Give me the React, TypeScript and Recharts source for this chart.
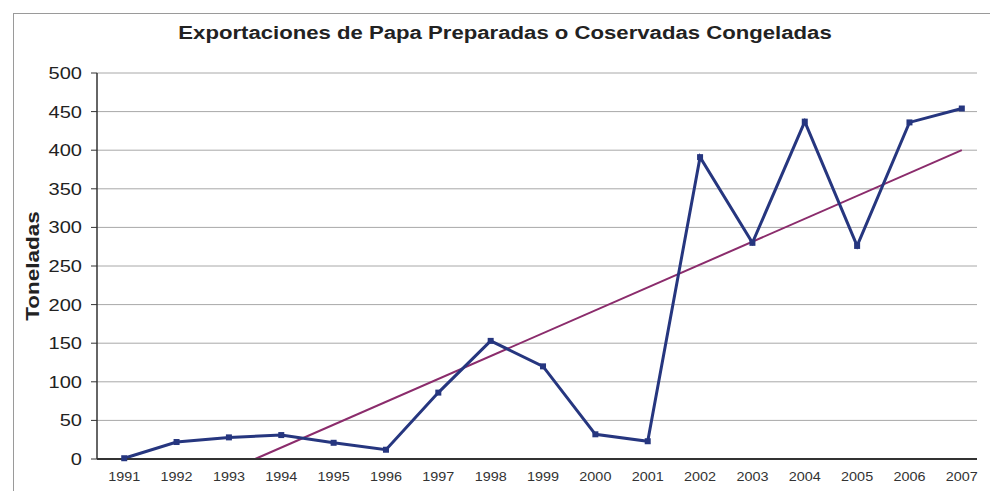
import React from "react";
import { LineChart, Line, XAxis, YAxis, CartesianGrid } from "recharts";

const years = [1991, 1992, 1993, 1994, 1995, 1996, 1997, 1998, 1999, 2000, 2001, 2002, 2003, 2004, 2005, 2006, 2007];
const toneladas = [1, 22, 28, 31, 21, 12, 86, 153, 120, 32, 23, 391, 280, 437, 276, 436, 454];
const yTicks = [0, 50, 100, 150, 200, 250, 300, 350, 400, 450, 500];
const trendYears = [1993.5, 2007];
const trendValues = [0, 400];

const seriesData = years.map((y, i) => ({ year: y, value: toneladas[i] }));
const trendData = trendYears.map((y, i) => ({ year: y, value: trendValues[i] }));

const FONT = "'Liberation Sans', Arial, sans-serif";

const SquareDot = (props: any) => {
  const { cx, cy } = props;
  if (cx == null || cy == null) return null;
  return <rect x={cx - 3} y={cy - 3} width={6} height={6} fill="#26367f" />;
};

const YTick = (props: any) => {
  const { x, y, payload } = props;
  return (
    <g transform={`translate(${x},${y}) scale(1.18,1)`}>
      <text x={0} y={0} dy={6} textAnchor="end" fontSize={17} fill="#222" fontFamily={FONT}>
        {payload.value}
      </text>
    </g>
  );
};

const XTick = (props: any) => {
  const { x, y, payload } = props;
  return (
    <g transform={`translate(${x},${y}) scale(1.2,1)`}>
      <text x={0} y={0} dy={10} textAnchor="middle" fontSize={12} fill="#333" fontFamily={FONT}>
        {payload.value}
      </text>
    </g>
  );
};

export default function App() {
  return (
    <div style={{ position: "absolute", left: 0, top: 0, width: 990, height: 491, background: "#fff", overflow: "hidden", fontFamily: FONT }}>
      <div style={{ position: "absolute", left: 13, top: 13, width: 990, height: 500, border: "1px solid #9a9a9a" }} />
      <div style={{ position: "absolute", left: 505, top: 33, transform: "translate(-50%, -50%) scale(1.23,1)", fontWeight: "bold", fontSize: 18, color: "#222", whiteSpace: "nowrap" }}>
        Exportaciones de Papa Preparadas o Coservadas Congeladas
      </div>
      <div style={{ position: "absolute", left: 33, top: 266, transform: "translate(-50%, -50%) rotate(-90deg) scale(1.25,1)", fontWeight: "bold", fontSize: 18, color: "#222", whiteSpace: "nowrap" }}>
        Toneladas
      </div>
      <div style={{ position: "absolute", left: 0, top: 0 }}>
        <LineChart width={990} height={491} margin={{ top: 73, right: 13, bottom: 7, left: 37 }}>
          <CartesianGrid vertical={false} stroke="#a8a8a8" strokeWidth={1} />
          <XAxis
            dataKey="year"
            type="number"
            domain={[1990.48, 2007.29]}
            ticks={years}
            interval={0}
            height={25}
            tickLine={false}
            axisLine={{ stroke: "#333", strokeWidth: 2 }}
            tick={<XTick />}
            tickMargin={6}
          />
          <YAxis
            type="number"
            domain={[0, 500]}
            ticks={yTicks}
            width={60}
            tickSize={6}
            tickMargin={9}
            tickLine={{ stroke: "#333" }}
            axisLine={{ stroke: "#333", strokeWidth: 1.5 }}
            tick={<YTick />}
          />
          <Line
            data={trendData}
            dataKey="value"
            stroke="#8b2c6c"
            strokeWidth={2}
            dot={false}
            activeDot={false}
            isAnimationActive={false}
          />
          <Line
            data={seriesData}
            dataKey="value"
            stroke="#26367f"
            strokeWidth={3}
            dot={<SquareDot />}
            activeDot={false}
            isAnimationActive={false}
          />
        </LineChart>
      </div>
    </div>
  );
}
